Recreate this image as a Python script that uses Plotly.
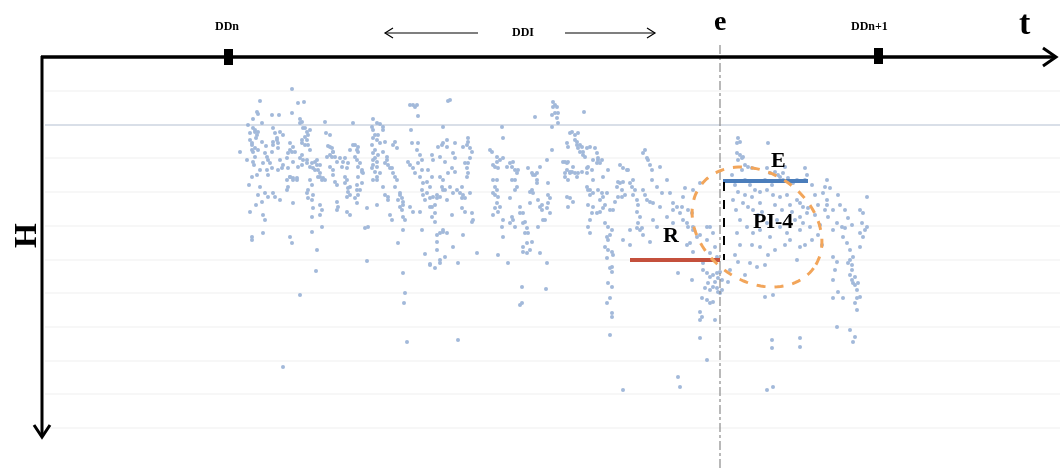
import numpy as np
import plotly.graph_objects as go

# ---- data: time position (t) and depth-like value (H), both in chart units ----
pts_early_upper = [
    (292,89),(260,101),(298,103),(304,102),(257,112),(258,114),(272,115),(279,115),(292,113),(253,119),(300,119),(302,122),
    (325,122),(353,123),(373,119),(377,123),(413,105),(417,105),(418,116),(448,101),
    (253,128),(255,130),(258,132),(273,128),(275,133),(280,132),(283,135),(277,138),(273,142),(278,143),(303,128),(307,132),
    (310,130),(305,137),(307,140),(302,143),(308,145),(326,133),(330,135),(372,127),(373,130),(380,124),(383,127),(383,130),
    (378,135),(373,138),(380,143),(385,142),(411,130),(443,127),(447,140),(442,145),(438,147),(395,142),(393,145),(397,148),
    (250,140),(252,145),(255,148),(252,150),(258,150),(265,153),(290,143),(293,147),(290,150),(288,153),(295,152),(328,146),
    (332,148),(333,152),(330,155),(327,157),(335,157),(350,150),(355,145),(358,147),(357,150),(240,152),(418,143),(417,150),
    (420,155),(422,160),(432,155),(433,160),(248,125),(250,133),(256,138),(262,142),(247,160),(254,165),(260,170),(249,185),
    (256,205),(250,212),(262,123),(266,146),
]
pts_early_mid = [
    (267,157),(268,160),(270,163),(263,163),(272,168),(267,170),(268,175),(280,160),(283,165),(282,168),(278,170),(300,158),
    (303,160),(302,165),(307,163),(310,167),(298,167),(315,162),(317,165),(313,168),(318,170),(320,173),(340,158),(343,162),
    (342,167),(347,168),(357,160),(360,163),(358,167),(362,170),(363,173),(373,153),(375,158),(377,162),(373,165),(372,168),
    (375,172),(377,177),(373,180),(387,160),(388,165),(392,168),(393,173),(395,177),(408,162),(410,165),(413,168),(415,173),
    (422,170),(428,170),(432,177),(427,182),(430,187),(440,177),(443,180),(442,187),(445,190),
    (252,177),(257,175),(287,180),(290,177),(293,178),(297,180),(288,187),(287,190),(310,180),(312,185),(308,190),(313,195),
    (320,177),(323,178),(325,180),(333,175),(335,182),(337,185),(347,180),(350,187),(348,192),(347,197),(357,185),(360,190),
    (358,195),(355,198),(357,203),(383,187),(385,195),(388,197),(388,200),(400,195),(402,198),(403,202),(400,207),(410,207),
    (413,212),(422,190),(423,195),(425,200),(430,198),(433,197),(437,198),(440,197),(432,207),(435,205),
    (260,187),(265,193),(268,197),(258,195),(262,202),(273,193),(275,197),(280,200),(293,203),(307,193),(308,198),(312,200),
    (313,208),(320,205),(322,210),(320,215),(337,202),(338,207),(337,210),(347,212),(350,215),(367,208),(365,228),(368,227),
    (377,205),(390,215),(392,220),(403,217),(405,220),(403,230),(420,212),(422,230),(432,217),(435,222),(443,230),(440,233),
    (447,233),(263,215),(265,220),(263,233),(290,237),(252,237),(312,217),(312,232),(322,227),
]
pts_early_extra = [
    (255,132),(257,135),(252,143),(253,152),(255,157),(253,162),(277,140),(273,145),(278,148),(272,152),
    (292,152),(287,158),(293,162),(288,168),(290,177),(293,180),(297,178),(300,123),(305,128),(308,135),
    (302,140),(305,145),(310,150),(302,155),(307,160),(312,163),(317,160),(320,165),(315,170),(318,177),
    (322,180),(330,147),(333,152),(332,157),(337,162),(330,167),(333,170),(345,158),(348,163),(345,177),
    (345,183),(348,188),(350,195),(353,145),(358,152),(355,157),(362,172),(358,177),(362,183),(357,190),
    (375,135),(377,140),(372,145),(375,150),(378,155),(373,160),(377,167),(380,173),(377,180),(383,152),
    (387,157),(385,163),(390,168),(397,180),(395,187),(400,193),(398,200),(403,205),(402,210),(410,105),
    (415,107),(412,143),(418,163),(420,177),(423,183),(427,193),(437,195),(430,207),(435,213),(443,143),
    (447,147),(440,157),(445,162),(448,173),(443,190),(447,200),(443,232),(437,235),(440,260),(430,265),
]
pts_early_low = [
    (252,240),(292,243),(317,250),(367,261),(316,271),(398,243),(403,273),(437,242),(437,250),(425,254),(445,257),(430,264),
    (440,263),(435,268),(300,295),(405,293),(404,303),(407,342),(283,367),
]
pts_mid_upper = [
    (553,102),(555,105),(557,107),(558,113),(552,115),(557,118),(558,123),(552,127),(535,117),(584,112),(502,127),(503,138),
    (450,100),(455,143),(453,153),(455,158),(452,168),(455,172),(468,138),(467,145),(470,148),(472,152),(470,158),(468,163),
    (467,168),(468,173),(467,177),(450,187),(453,193),(457,190),(460,193),(463,195),(462,198),(465,198),(452,215),(462,208),
    (465,212),(472,213),(472,222),(463,235),
    (490,150),(492,152),(500,160),(497,162),(503,158),(493,165),(498,168),(497,180),(495,187),(497,190),(493,193),(498,197),
    (497,203),(495,208),(498,212),(493,215),(502,227),(503,237),(513,162),(512,167),(515,170),(517,173),(518,170),(515,180),
    (517,187),(510,198),(512,217),(513,220),(510,223),(515,227),(520,207),(523,213),(525,222),(527,228),(528,233),(523,223),
    (528,168),(532,173),(535,175),(537,173),(530,192),(533,193),(530,203),(540,167),(537,183),(540,207),(542,210),(543,220),
    (538,227),(547,160),(548,183),(548,195),(550,198),(548,203),(547,208),(550,213),(552,150),
]
pts_mid_extra = [
    (463,147),(468,142),(465,163),(462,187),(470,193),(473,220),(497,157),(495,167),(493,180),(495,195),
    (500,207),(503,220),(507,167),(510,163),(512,180),(515,190),(520,213),(525,233),(527,243),(523,252),
    (533,175),(537,180),(532,190),(538,200),(542,205),(545,220),(553,107),(555,113),(563,162),(567,163),
    (565,173),(570,172),(573,167),(577,177),(570,133),(575,135),(577,142),(580,145),(583,152),(588,190),
    (590,195),(593,207),(598,158),(600,163),(607,237),(612,267),(618,182),(622,197),(613,210),(627,170),
]
pts_mid_late = [
    (567,143),(568,147),(565,162),(568,162),(567,170),(565,177),(568,180),(570,173),(572,132),(578,133),(575,140),(577,145),
    (578,148),(580,152),(582,147),(583,155),(572,172),(575,173),(578,173),(582,172),(567,197),(570,198),(573,202),(568,207),
    (587,148),(590,147),(595,148),(597,153),(598,160),(593,160),(597,163),(585,157),(587,168),(588,167),(592,170),(587,173),
    (587,187),(590,190),(593,193),(588,205),(592,213),(597,213),(600,212),(603,208),(605,205),(590,220),(588,227),(590,233),
    (598,190),(602,193),(603,197),(600,200),(608,170),(605,223),(608,227),(612,230),(610,235),(620,165),(623,168),(617,187),
    (620,183),(623,182),(622,190),(625,195),(618,197),(615,202),(628,170),(633,180),(630,183),(632,187),(635,190),(633,195),
    (637,200),(638,205),(637,212),(640,217),(638,223),(642,228),(643,153),(645,150),(648,160),(650,165),(652,170),(647,158),
    (652,180),(643,190),(645,195),(647,200),(650,202),(653,203),(657,187),(630,230),(637,228),(640,230),(643,235),(653,220),
    (657,227),(593,180),(602,160),(603,177),(607,193),(610,210),(608,240),(612,287),(612,313),
    (660,167),(667,180),(670,193),(673,203),(680,213),(683,220),(688,227),(693,230),(697,237),(690,243),(673,237),(660,207),
    (667,217),(683,197),(693,190),(700,183),(710,227),(713,233),(707,240),(715,247),(710,253),(717,257),(703,263),
    (688,210),(692,213),(687,223),(693,227),(707,227),(700,235),(673,210),(677,207),(673,223),(685,188),(662,193),(682,207),
]
pts_mid_low = [
    (453,247),(458,263),(477,253),(498,255),(508,263),(523,247),(527,253),(530,250),(532,242),(540,253),(547,263),(522,287),
    (520,305),(522,303),(546,289),(458,340),(605,247),(608,250),(612,252),(613,255),(607,258),(610,268),(612,272),(608,283),
    (610,298),(607,303),(612,317),(610,335),(630,245),(623,240),(650,242),(623,390),
    (678,273),(692,280),(703,270),(707,273),(710,277),(713,275),(717,273),(720,272),(718,278),(722,280),(715,282),(708,283),
    (705,288),(710,290),(713,287),(717,288),(718,292),(720,293),(722,290),(707,300),(710,303),(713,302),(702,298),(700,312),
    (702,317),(700,320),(715,320),(700,338),(707,360),(678,377),(680,387),(693,252),(687,245),
]
pts_after_e = [
    (738,138),(740,142),(737,143),(768,143),(737,153),(740,155),(742,158),(743,157),(738,160),(745,165),(748,167),(752,168),
    (742,170),(767,168),(770,173),(775,172),(778,175),(780,177),(783,173),(785,167),(788,178),(783,180),(790,182),(793,183),
    (797,180),(805,168),(807,175),(805,180),(827,180),(825,187),(823,193),(827,200),(827,205),(825,210),(738,192),(745,195),
    (752,197),(760,192),(767,190),(773,195),(780,197),(787,195),(743,203),(748,207),(753,210),(760,203),(797,200),(800,203),
    (803,207),(808,208),(807,213),(800,217),(795,220),(803,223),(810,227),(800,230),(837,223),(842,227),(845,228),(833,230),
    (860,210),(863,213),(862,223),(860,233),(867,227),(863,237),(740,220),(747,227),(753,233),(760,230),(767,223),(777,220),
    (780,227),(770,237),(787,233),(737,233),(830,188),(833,210),(828,217),(843,237),(847,243),(850,250),(853,257),(848,263),
    (852,270),(855,277),(853,283),(857,290),(860,297),(865,230),(867,197),
    (765,297),(773,295),(772,340),(772,348),(800,338),(800,347),(833,257),(837,262),(835,270),(833,280),(833,298),(838,292),
    (843,298),(837,327),(850,260),(852,265),(850,275),(852,280),(855,285),(857,298),(855,303),(857,310),(860,247),(858,283),
    (850,330),(855,337),(853,342),(750,263),(757,267),(765,265),(752,245),(760,247),(797,260),(800,247),(767,390),(773,387),
]
pts_after_extra = [
    (732,175),(735,185),(733,200),(736,210),(745,180),(750,185),(755,190),(758,215),(762,212),(765,180),
    (772,185),(775,205),(782,210),(790,205),(792,212),(812,185),(815,195),(818,205),(815,215),(820,225),
    (818,235),(822,245),(812,240),(805,245),(790,240),(785,245),(775,250),(768,255),(740,245),(735,255),
    (738,262),(730,270),(728,282),(745,275),(845,210),(848,218),(852,225),(840,205),(838,195),
]

all_pts = (pts_early_upper + pts_early_mid + pts_early_extra + pts_early_low + pts_mid_upper +
           pts_mid_extra + pts_mid_late + pts_mid_low + pts_after_e + pts_after_extra)
t_vals = [p[0] for p in all_pts]
h_vals = [p[1] for p in all_pts]

grid_levels = [91, 125, 158, 192, 226, 260, 293, 327, 361, 394, 428]

SERIF = "Liberation Serif, DejaVu Serif, serif"

fig = go.Figure()
fig.add_trace(go.Scatter(
    x=t_vals, y=h_vals, mode="markers",
    marker=dict(size=4, color="#98b2d6", line=dict(width=0)),
    opacity=0.9, hoverinfo="skip", showlegend=False,
))

shapes = []
for g in grid_levels:
    shapes.append(dict(type="line", xref="x", yref="y", x0=45, x1=1060, y0=g, y1=g, layer="below",
                       line=dict(color="#cdd5e0" if g == 125 else "#efefef", width=1.5 if g == 125 else 1)))

# vertical event line e
shapes.append(dict(type="line", xref="x", yref="y", x0=720, x1=720, y0=45, y1=468,
                   line=dict(color="#8a8a8a", width=1.2, dash="dashdot")))
# axes
shapes.append(dict(type="line", xref="x", yref="y", x0=41, x1=1055, y0=57, y1=57, line=dict(color="black", width=3.5)))
shapes.append(dict(type="line", xref="x", yref="y", x0=42, x1=42, y0=56, y1=436, line=dict(color="black", width=3)))
shapes.append(dict(type="path", xref="x", yref="y", path="M1043,48 L1056,57 L1043,66",
                   line=dict(color="black", width=3)))
shapes.append(dict(type="path", xref="x", yref="y", path="M34,425 L42,437 L50,425",
                   line=dict(color="black", width=3)))
# ticks DDn / DDn+1
shapes.append(dict(type="rect", xref="x", yref="y", x0=224, x1=233, y0=49, y1=65, fillcolor="black", line=dict(width=0)))
shapes.append(dict(type="rect", xref="x", yref="y", x0=874, x1=883, y0=48, y1=64, fillcolor="black", line=dict(width=0)))
# DDI arrows
shapes.append(dict(type="line", xref="x", yref="y", x0=478, x1=385, y0=33, y1=33, line=dict(color="black", width=1.2)))
shapes.append(dict(type="path", xref="x", yref="y", path="M393,28 L385,33 L393,38", line=dict(color="black", width=1.2)))
shapes.append(dict(type="line", xref="x", yref="y", x0=565, x1=655, y0=33, y1=33, line=dict(color="black", width=1.2)))
shapes.append(dict(type="path", xref="x", yref="y", path="M647,28 L655,33 L647,38", line=dict(color="black", width=1.2)))
# R and E levels
shapes.append(dict(type="line", xref="x", yref="y", x0=630, x1=720, y0=260, y1=260, line=dict(color="#c4503c", width=4)))
shapes.append(dict(type="line", xref="x", yref="y", x0=723, x1=808, y0=181, y1=181, line=dict(color="#4a7dbb", width=4)))
shapes.append(dict(type="line", xref="x", yref="y", x0=724, x1=724, y0=182, y1=260, line=dict(color="black", width=2, dash="dash")))
# ellipse PI-4
cx, cy, a, b, th = 757, 227, 70, 54, np.radians(36)
tt = np.linspace(0, 2 * np.pi, 120)
ex = cx + a * np.cos(th) * np.cos(tt) - b * np.sin(th) * np.sin(tt)
ey = cy + a * np.sin(th) * np.cos(tt) + b * np.cos(th) * np.sin(tt)
path = "M" + " L".join(f"{x:.1f},{y:.1f}" for x, y in zip(ex, ey)) + " Z"
shapes.append(dict(type="path", xref="x", yref="y", path=path, line=dict(color="#f2a55a", width=3, dash="dash")))

def ann(text, x, y, size, angle=0):
    return dict(text=f"<b>{text}</b>", x=x, y=y, xref="x", yref="y", showarrow=False,
                font=dict(family=SERIF, size=size, color="black"), textangle=angle,
                xanchor="center", yanchor="middle", borderpad=0)

annotations = [
    ann("DDn", 227, 26, 12),
    ann("DDI", 523, 32, 12),
    ann("e", 720, 20, 28),
    ann("DDn+1", 869, 26, 12),
    ann("t", 1025, 22, 34),
    ann("H", 25, 236, 32, -90),
    ann("E", 778, 159, 22),
    ann("PI-4", 773, 220, 22),
    ann("R", 671, 234, 22),
]

fig.update_layout(
    width=1060, height=468, margin=dict(l=0, r=0, t=0, b=0),
    paper_bgcolor="white", plot_bgcolor="white",
    xaxis=dict(range=[0, 1060], visible=False, fixedrange=True),
    yaxis=dict(range=[468, 0], visible=False, fixedrange=True),
    shapes=shapes, annotations=annotations, showlegend=False,
)
# remove the default page margin so the figure fills the window exactly
fig.write_html("out.html", config={"displayModeBar": False},
               post_script="document.body.style.margin='0';document.body.style.overflow='hidden';")
